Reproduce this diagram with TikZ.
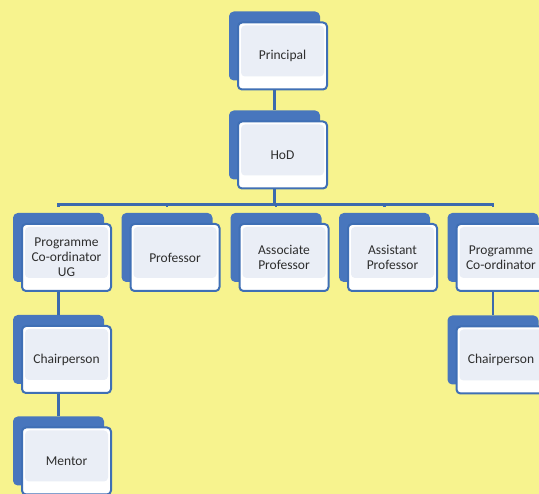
\documentclass[tikz,border=0pt]{standalone}
\usepackage{fontspec}
\setmainfont{Carlito}
\usepackage{xcolor}
\usetikzlibrary{shadows,calc}

\definecolor{pagebg}{HTML}{F7F38E}
\definecolor{backblue}{HTML}{4876BD}
\definecolor{edgeblue}{HTML}{3F6FB5}
\definecolor{linkblue}{HTML}{3C6AAD}
\definecolor{boxfill}{HTML}{EAEEF6}
\definecolor{labeltext}{HTML}{2E2E2E}

\begin{document}
\begin{tikzpicture}[
    x=1pt,
    y=-1pt,
    role/.style={draw=edgeblue,line width=2pt,fill=white,rounded corners=4pt,
                 minimum width=89pt,minimum height=67pt,inner sep=2pt,
                 align=center,text=labeltext,
                 font=\fontsize{13.5}{15}\selectfont,
                 copy shadow={shadow xshift=-8pt,shadow yshift=10pt,
                              fill=backblue,draw=backblue,line width=2pt},
                 path picture={\fill[boxfill]
                     ([xshift=3pt,yshift=-3pt]path picture bounding box.north west)
                     rectangle
                     ([xshift=-3pt,yshift=13pt]path picture bounding box.south east);}},
    link/.style={draw=linkblue,line width=2.6pt}
]

\useasboundingbox (0,0) rectangle (539,494);
\fill[pagebg] (0,0) rectangle (539,494);

% top of the chart
\node[role] (principal) at (282.5,56) {Principal};
\node[role] (hod) at (282.5,155) {HoD};

% second row
\node[role] (pcug) at (66.5,257.5) {Programme\\Co-ordinator\\UG};
\node[role] (prof) at (175,257.5) {Professor};
\node[role] (assoc) at (284,257.5) {Associate\\Professor};
\node[role] (asst) at (392.5,257.5) {Assistant\\Professor};
\node[role] (pcpg) at (501,257.5) {Programme\\Co-ordinator};

% lower levels
\node[role] (chairug) at (66.5,359.5) {Chairperson};
\node[role] (mentor) at (66.5,461) {Mentor};
\node[role] (chairpg) at (501,360) {Chairperson};

\coordinate (hodfoot) at ([xshift=-8pt]hod.south);
\coordinate (bus) at ($(hodfoot)+(0,15)$);
\foreach \n in {pcug,prof,assoc,asst,pcpg}
    \coordinate (\n-top) at ([xshift=-8pt,yshift=16pt]\n.north);

\draw[link] ([xshift=-8pt]principal.south) -- ([xshift=-8pt,yshift=10pt]hod.north);
\draw[link] (hodfoot) -- (bus);
\draw[link] (pcug-top) |- (bus) -| (pcpg-top);
\foreach \n in {prof,assoc,asst}
    \draw[link] (\n-top |- bus) -- (\n-top);

\draw[link] ([xshift=-8pt]pcug.south) -- ([xshift=-8pt,yshift=10pt]chairug.north);
\draw[link] ([xshift=-8pt]chairug.south) -- ([xshift=-8pt,yshift=10pt]mentor.north);
\draw[link] ([xshift=-8pt]pcpg.south) -- ([xshift=-8pt,yshift=10pt]chairpg.north);

\end{tikzpicture}
\end{document}
